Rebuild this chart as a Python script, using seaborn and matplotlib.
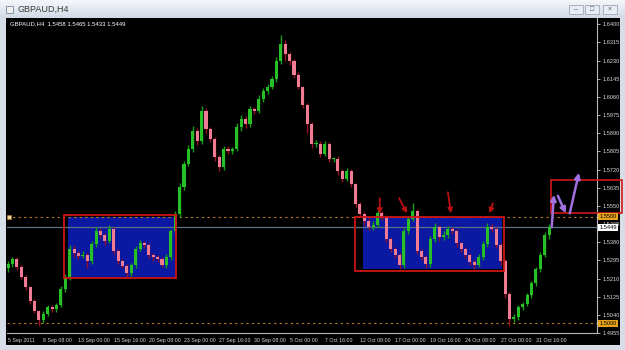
import numpy as np
import pandas as pd
import matplotlib
matplotlib.use("Agg")
import matplotlib.pyplot as plt
from matplotlib.patches import Rectangle
from matplotlib.colors import LinearSegmentedColormap
import seaborn as sns

# ---------------- data ----------------
symbol = "GBPAUD,H4"
last_ohlc = ["1.5458", "1.5465", "1.5433", "1.5449"]
first_open = 1.5260
closes = [
    1.5277, 1.5300, 1.5263, 1.5216, 1.5169, 1.5104, 1.5057, 1.5015, 1.5043, 1.5076,
    1.5066, 1.5085, 1.5160, 1.5216, 1.5347, 1.5328, 1.5314, 1.5319, 1.5291, 1.5370,
    1.5431, 1.5413, 1.5384, 1.5441, 1.5338, 1.5291, 1.5267, 1.5235, 1.5272, 1.5347,
    1.5375, 1.5366, 1.5319, 1.5310, 1.5300, 1.5272, 1.5310, 1.5431, 1.5511, 1.5637,
    1.5745, 1.5815, 1.5899, 1.5852, 1.5993, 1.5909, 1.5862, 1.5778, 1.5731, 1.5815,
    1.5806, 1.5815, 1.5918, 1.5955, 1.5932, 1.6002, 1.5993, 1.6049, 1.6086, 1.6105,
    1.6143, 1.6227, 1.6306, 1.6260, 1.6227, 1.6161, 1.6105, 1.6021, 1.5932, 1.5838,
    1.5838, 1.5792, 1.5838, 1.5768, 1.5768, 1.5712, 1.5675, 1.5712, 1.5651, 1.5558,
    1.5511, 1.5478, 1.5450, 1.5459, 1.5516, 1.5497, 1.5394, 1.5347, 1.5319, 1.5272,
    1.5431, 1.5487, 1.5525, 1.5338, 1.5310, 1.5277, 1.5394, 1.5450, 1.5403, 1.5413,
    1.5441, 1.5431, 1.5375, 1.5347, 1.5319, 1.5286, 1.5272, 1.5310, 1.5370, 1.5450,
    1.5441, 1.5366, 1.5291, 1.5136, 1.5019, 1.5029, 1.5076, 1.5090, 1.5132, 1.5188,
    1.5253, 1.5319, 1.5413, 1.5449,
]
upper_wick_pips = [
    15, 12, 10, 8, 10, 8, 10, 6, 14, 10,
    12, 10, 14, 16, 20, 14, 12, 18, 10, 16,
    18, 14, 12, 20, 10, 12, 8, 10, 12, 14,
    16, 10, 12, 10, 8, 12, 14, 12, 14, 18,
    16, 20, 24, 14, 22, 16, 12, 10, 12, 16,
    14, 12, 18, 20, 16, 14, 12, 18, 14, 16,
    14, 20, 45, 22, 12, 10, 14, 8, 10, 12,
    20, 14, 16, 10, 12, 14, 10, 16, 12, 8,
    12, 10, 14, 20, 30, 12, 8, 10, 12, 10,
    14, 16, 40, 12, 10, 8, 16, 20, 12, 18,
    14, 12, 10, 8, 10, 12, 10, 14, 16, 18,
    14, 10, 12, 8, 10, 14, 12, 10, 12, 10,
    12, 14, 16, 16,
]
lower_wick_pips = [
    20, 14, 12, 10, 12, 14, 10, 25, 12, 10,
    12, 14, 10, 12, 14, 16, 12, 10, 30, 12,
    14, 12, 16, 10, 12, 14, 10, 18, 12, 14,
    10, 12, 14, 16, 12, 10, 12, 14, 10, 12,
    14, 10, 12, 16, 14, 18, 14, 16, 20, 12,
    14, 12, 10, 18, 16, 12, 14, 10, 12, 14,
    10, 12, 14, 30, 16, 12, 10, 14, 40, 16,
    14, 12, 10, 14, 12, 16, 12, 10, 14, 12,
    14, 16, 12, 14, 10, 12, 14, 12, 14, 18,
    12, 14, 10, 14, 12, 16, 14, 12, 16, 14,
    12, 14, 16, 12, 14, 12, 16, 10, 12, 14,
    12, 14, 16, 18, 30, 14, 12, 14, 10, 12,
    12, 14, 10, 16,
]
x_tick_labels = ["5 Sep 2011", "8 Sep 08:00", "13 Sep 00:00", "15 Sep 16:00",
                 "20 Sep 08:00", "23 Sep 00:00", "27 Sep 16:00", "30 Sep 08:00",
                 "5 Oct 00:00", "7 Oct 16:00", "12 Oct 08:00", "17 Oct 00:00",
                 "19 Oct 16:00", "24 Oct 08:00", "27 Oct 00:00", "31 Oct 16:00"]
bars_per_label = 8
y_tick_labels = ["1.6400", "1.6315", "1.6230", "1.6145", "1.6060", "1.5975",
                 "1.5890", "1.5805", "1.5720", "1.5635", "1.5550", "1.5465",
                 "1.5380", "1.5295", "1.5210", "1.5125", "1.5040", "1.4955"]
level_prices = ["1.5500", "1.5000"]
bid_price = "1.5449"

# drawn objects on the chart (bar index / price)
range_zones = [(13.6, 38.0, 1.5216, 1.5497), (80.7, 112.3, 1.5253, 1.5497)]
zone_frames = [(12.7, 38.2, 1.5211, 1.5506), (78.9, 112.7, 1.5244, 1.5497)]
red_arrows = [((84.5, 1.5586), (84.5, 1.5512)), ((88.9, 1.5586), (90.7, 1.5515)),
              ((100.0, 1.5614), (100.7, 1.5515)), ((110.2, 1.5562), (109.5, 1.5515))]
target_box = (123.4, 139.5, 1.5516, 1.5670)
purple_arrows = [((123.6, 1.5450), (124.1, 1.5602)), ((125.0, 1.5597), (126.8, 1.5515)),
                 ((127.7, 1.5515), (129.8, 1.5705))]

# ---------------- styling ----------------
sns.set_theme(style="dark", rc={"axes.facecolor": "black"})
plt.rcParams["font.family"] = ["Liberation Sans", "DejaVu Sans"]

W, H = 625, 350
def fx(px): return px / W
def fy(py): return 1 - py / H

fig = plt.figure(figsize=(6.25, 3.5), dpi=100)
fig.patch.set_facecolor("#D8DEE7")

# title bar
tax = fig.add_axes([0, fy(18), 1, 18 / H])
grad = np.linspace(0, 1, 32).reshape(-1, 1)
tax.imshow(grad, aspect="auto", extent=[0, 1, 0, 1],
           cmap=LinearSegmentedColormap.from_list("t", ["#F4F6FA", "#D3DAE5"]))
tax.set_axis_off()
fig.add_artist(Rectangle((fx(6), fy(13)), fx(7), 7 / H, transform=fig.transFigure,
                         facecolor="#F0F0F0", edgecolor="#7A8AA0", lw=0.6))
fig.text(fx(18), fy(9), symbol, color="#3A3A3A", fontsize=6.5, va="center", ha="left")
for bx, sym in zip([569, 585, 603], ["–", "□", "×"]):
    fig.add_artist(Rectangle((fx(bx), fy(14)), fx(14), 9 / H, transform=fig.transFigure,
                             facecolor="#E9EDF3", edgecolor="#9AA6B8", lw=0.6))
    fig.text(fx(bx + 7), fy(9.5), sym, color="#505A6A", fontsize=5, ha="center", va="center")

# black chart window
fig.add_artist(Rectangle((fx(6), fy(345)), fx(614), 327 / H, transform=fig.transFigure,
                         facecolor="black", edgecolor="none", zorder=-1))

ax = fig.add_axes([fx(7), fy(333), fx(590), 315 / H])
ax.set_facecolor("black")

df = pd.DataFrame({"close": closes, "up": upper_wick_pips, "dn": lower_wick_pips})
df["open"] = [first_open] + closes[:-1]
df["high"] = df[["open", "close"]].max(axis=1) + df["up"] / 1e4
df["low"] = df[["open", "close"]].min(axis=1) - df["dn"] / 1e4
df["x"] = np.arange(len(df))
df["bull"] = df["close"] >= df["open"]

# zones
for x0, x1, p0, p1 in range_zones:
    ax.add_patch(Rectangle((x0, p0), x1 - x0, p1 - p0, facecolor="#0A18A2",
                           edgecolor="none", zorder=1))
for x0, x1, p0, p1 in zone_frames:
    ax.add_patch(Rectangle((x0, p0), x1 - x0, p1 - p0, facecolor="none",
                           edgecolor="#CC1414", lw=1.3, zorder=4))

# level lines
for lp in level_prices:
    ax.axhline(float(lp), color="#C07A1E", lw=0.8, ls=(0, (2, 3)), zorder=2)
ax.axhline(float(bid_price), color="#5A7282", lw=0.9, zorder=2)
ax.plot([0.2], [float(level_prices[0])], marker="s", ms=2.2, color="#F0D8A0",
        mec="#C07A1E", mew=0.4, zorder=5, clip_on=False)

# candles
bull = df[df["bull"]]
bear = df[~df["bull"]]
ax.vlines(bull["x"], bull["low"], bull["high"], color="#13A013", lw=1.0, zorder=3)
ax.vlines(bear["x"], bear["low"], bear["high"], color="#9A1024", lw=1.0, zorder=3)
body_h = (df["close"] - df["open"]).abs().clip(lower=0.0004)
body_b = df[["open", "close"]].min(axis=1)
ax.bar(df["x"][df["bull"]], body_h[df["bull"]], bottom=body_b[df["bull"]], width=0.7,
       color="#27C027", edgecolor="none", zorder=3.2)
ax.bar(df["x"][~df["bull"]], body_h[~df["bull"]], bottom=body_b[~df["bull"]], width=0.7,
       color="#F07C94", edgecolor="none", zorder=3.2)

# arrows
for (xs, ps), (xe, pe) in red_arrows:
    ax.annotate("", xy=(xe, pe), xytext=(xs, ps),
                arrowprops=dict(arrowstyle="-|>", color="#B81010", lw=1.3,
                                mutation_scale=7, shrinkA=0, shrinkB=0), zorder=5)
x0, x1, p0, p1 = target_box
ax.add_patch(Rectangle((x0, p0), x1 - x0, p1 - p0, facecolor="none", edgecolor="#D01818",
                       lw=1.2, zorder=6, clip_on=False))
for (xs, ps), (xe, pe) in purple_arrows:
    ax.annotate("", xy=(xe, pe), xytext=(xs, ps), annotation_clip=False,
                arrowprops=dict(arrowstyle="-|>", color="#A070E0", lw=1.8,
                                mutation_scale=8, shrinkA=0, shrinkB=0), zorder=6)

# axes
ax.set_xlim(-0.25, 133.9)
ax.set_ylim(1.4955, 1.6429)
ax.set_xticks(np.arange(len(x_tick_labels)) * bars_per_label)
ax.set_xticklabels(x_tick_labels, ha="left", fontsize=3.8, fontstretch="condensed")
ax.set_yticks([float(s) for s in y_tick_labels])
ax.set_yticklabels(y_tick_labels)
ax.yaxis.tick_right()
ax.tick_params(axis="both", colors="#C8C8C8", labelcolor="#D8D8D8", labelsize=4.1,
               length=2.5, width=0.6, pad=1.5, direction="out")
ax.tick_params(axis="x", pad=1.2, labelsize=3.8)
ax.grid(False)
for s in ["top", "left"]:
    ax.spines[s].set_visible(False)
for s in ["right", "bottom"]:
    ax.spines[s].set_color("#B8B8B8")
    ax.spines[s].set_linewidth(0.8)

# price labels on the axis
ytr = ax.get_yaxis_transform()
for lp in level_prices:
    ax.text(1.004, float(lp), lp, transform=ytr, fontsize=4.1, color="black", va="center",
            ha="left", clip_on=False, zorder=7,
            bbox=dict(boxstyle="square,pad=0.2", fc="#E8A31C", ec="none"))
ax.text(1.004, float(bid_price), bid_price, transform=ytr, fontsize=4.1, color="black",
        va="center", ha="left", clip_on=False, zorder=7,
        bbox=dict(boxstyle="square,pad=0.2", fc="white", ec="none"))

# info line
fig.text(fx(10), fy(24), symbol + "  " + " ".join(last_ohlc), color="white",
         fontsize=4.3, ha="left", va="center")

fig.savefig("out.png", dpi=100, facecolor=fig.get_facecolor())
